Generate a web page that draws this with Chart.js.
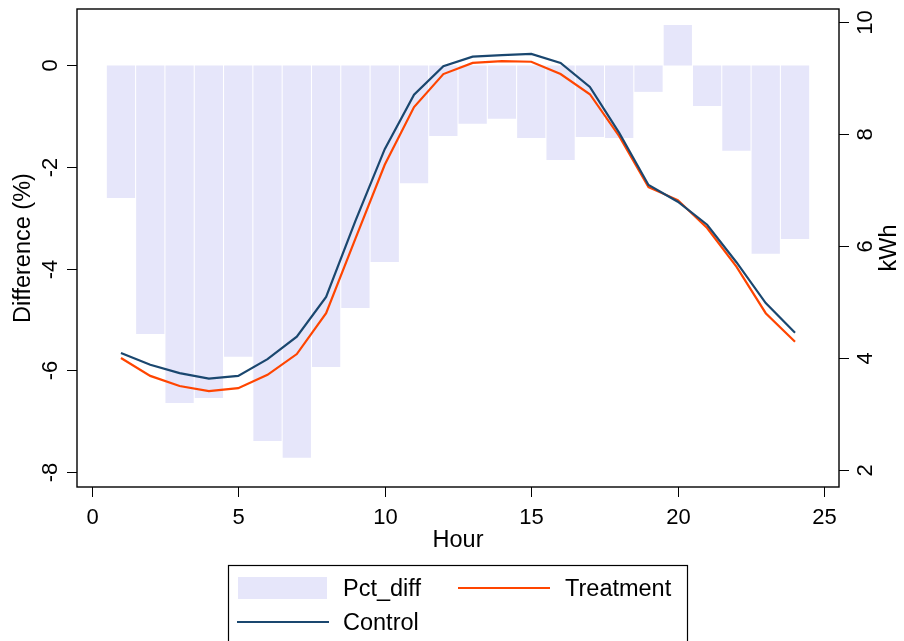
<!DOCTYPE html>
<html>
<head>
<meta charset="utf-8">
<script src="https://cdn.jsdelivr.net/npm/chart.js@4/dist/chart.umd.min.js"></script>
<style>
  body { margin: 0; background: #fff; }
  #wrap { width: 904px; height: 641px; position: relative; }
</style>
</head>
<body>
<div id="wrap"><canvas id="hourChart"></canvas></div>
<script>
const hours = [1, 2, 3, 4, 5, 6, 7, 8, 9, 10, 11, 12, 13, 14, 15, 16, 17, 18, 19, 20, 21, 22, 23, 24];
const pctDiff = [-2.61, -5.29, -6.65, -6.55, -5.74, -7.40, -7.73, -5.94, -4.78, -3.87, -2.32, -1.39,
                 -1.15, -1.05, -1.43, -1.86, -1.41, -1.43, -0.52, 0.80, -0.80, -1.68, -3.71, -3.42];
const control = [4.09, 3.88, 3.73, 3.63, 3.68, 3.98, 4.38, 5.09, 6.45, 7.73, 8.70, 9.21,
                 9.38, 9.41, 9.43, 9.27, 8.84, 8.02, 7.09, 6.79, 6.38, 5.71, 4.98, 4.45];
const treatment = [4.00, 3.68, 3.50, 3.41, 3.46, 3.70, 4.07, 4.80, 6.13, 7.45, 8.48, 9.07,
                   9.27, 9.30, 9.29, 9.07, 8.71, 7.96, 7.05, 6.82, 6.32, 5.63, 4.80, 4.29];
const xTicks = [0, 5, 10, 15, 20, 25];
const leftTicks = [0, -2, -4, -6, -8];
const rightTicks = [2, 4, 6, 8, 10];

const FONT = '"Liberation Sans", Arial, sans-serif';
const BAR_COLOR = 'rgb(230,230,250)';
const CONTROL_COLOR = '#1a476f';
const TREAT_COLOR = '#ff4500';

function pts(ys) {
    return hours.map((h, i) => ({ x: h, y: ys[i] }));
}

// axes, frame, titles and legend drawn in Stata style
const stataFrame = {
    id: 'stataFrame',
    afterDraw(chart) {
        const ctx = chart.ctx;
        const a = chart.chartArea;
        const xs = chart.scales.x, yl = chart.scales.yL, yr = chart.scales.yR;
        ctx.save();
        ctx.strokeStyle = '#000';
        ctx.fillStyle = '#000';
        ctx.lineWidth = 1.4;
        ctx.strokeRect(a.left, a.top, a.right - a.left, a.bottom - a.top);

        ctx.lineWidth = 1;
        ctx.font = '22px ' + FONT;
        // x ticks
        ctx.textAlign = 'center';
        ctx.textBaseline = 'alphabetic';
        xTicks.forEach(t => {
            const px = Math.round(xs.getPixelForValue(t)) + 0.5;
            ctx.beginPath();
            ctx.moveTo(px, a.bottom);
            ctx.lineTo(px, a.bottom + 10);
            ctx.stroke();
            ctx.fillText(String(t), px, 524);
        });
        // left ticks
        leftTicks.forEach(t => {
            const py = Math.round(yl.getPixelForValue(t)) + 0.5;
            ctx.beginPath();
            ctx.moveTo(a.left, py);
            ctx.lineTo(a.left - 10, py);
            ctx.stroke();
            ctx.save();
            ctx.translate(57, py);
            ctx.rotate(-Math.PI / 2);
            ctx.textAlign = 'center';
            ctx.fillText(String(t), 0, 0);
            ctx.restore();
        });
        // right ticks
        rightTicks.forEach(t => {
            const py = Math.round(yr.getPixelForValue(t)) + 0.5;
            ctx.beginPath();
            ctx.moveTo(a.right, py);
            ctx.lineTo(a.right + 10, py);
            ctx.stroke();
            ctx.save();
            ctx.translate(872, py);
            ctx.rotate(-Math.PI / 2);
            ctx.textAlign = 'center';
            ctx.fillText(String(t), 0, 0);
            ctx.restore();
        });

        // axis titles
        ctx.font = '23.5px ' + FONT;
        const midY = (a.top + a.bottom) / 2;
        ctx.textAlign = 'center';
        ctx.fillText('Hour', (a.left + a.right) / 2, 547);
        ctx.save();
        ctx.translate(30, midY);
        ctx.rotate(-Math.PI / 2);
        ctx.fillText('Difference (%)', 0, 0);
        ctx.restore();
        ctx.save();
        ctx.translate(896, midY);
        ctx.rotate(-Math.PI / 2);
        ctx.fillText('kWh', 0, 0);
        ctx.restore();

        // legend
        ctx.lineWidth = 1.2;
        ctx.strokeStyle = '#000';
        ctx.strokeRect(228.5, 565.5, 459, 100);
        ctx.fillStyle = BAR_COLOR;
        ctx.fillRect(238, 577, 89, 22);
        ctx.lineWidth = 2.2;
        ctx.strokeStyle = TREAT_COLOR;
        ctx.beginPath();
        ctx.moveTo(458, 588);
        ctx.lineTo(550, 588);
        ctx.stroke();
        ctx.strokeStyle = CONTROL_COLOR;
        ctx.beginPath();
        ctx.moveTo(237, 622);
        ctx.lineTo(329, 622);
        ctx.stroke();
        ctx.fillStyle = '#000';
        ctx.textAlign = 'left';
        ctx.fillText('Pct_diff', 343, 596);
        ctx.fillText('Treatment', 565, 596);
        ctx.fillText('Control', 343, 630);
        ctx.restore();
    }
};

const ctx = document.getElementById('hourChart').getContext('2d');
new Chart(ctx, {
    data: {
        datasets: [
            {
                type: 'line',
                label: 'Control',
                data: pts(control),
                yAxisID: 'yR',
                borderColor: CONTROL_COLOR,
                borderWidth: 2.2,
                pointRadius: 0,
                tension: 0,
                order: 1
            },
            {
                type: 'line',
                label: 'Treatment',
                data: pts(treatment),
                yAxisID: 'yR',
                borderColor: TREAT_COLOR,
                borderWidth: 2.2,
                pointRadius: 0,
                tension: 0,
                order: 2
            },
            {
                type: 'bar',
                label: 'Pct_diff',
                data: pts(pctDiff),
                yAxisID: 'yL',
                backgroundColor: BAR_COLOR,
                borderWidth: 0,
                barPercentage: 0.965,
                categoryPercentage: 1,
                order: 3
            }
        ]
    },
    options: {
        responsive: true,
        maintainAspectRatio: false,
        animation: false,
        layout: { padding: { left: 77, right: 65, top: 9, bottom: 154 } },
        plugins: {
            legend: { display: false },
            tooltip: { enabled: false }
        },
        scales: {
            x: { type: 'linear', display: false, offset: false, min: -0.5, max: 25.5 },
            yL: { type: 'linear', position: 'left', display: false, min: -8.305, max: 1.113 },
            yR: { type: 'linear', position: 'right', display: false, min: 1.696, max: 10.232 }
        }
    },
    plugins: [stataFrame]
});
</script>
</body>
</html>
